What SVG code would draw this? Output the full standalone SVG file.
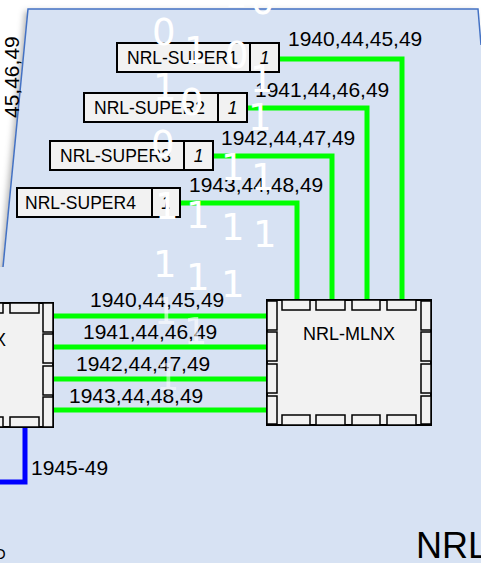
<svg xmlns="http://www.w3.org/2000/svg" width="481" height="563" viewBox="0 0 481 563">
<defs>
<style>
.box{fill:#F2F2F2;stroke:#000;stroke-width:2}
.port{fill:#F2F2F2;stroke:#000;stroke-width:1.5}
.lbl{font-family:"Liberation Sans",Arial,sans-serif;fill:#000}
.nt{font-family:"Liberation Sans",Arial,sans-serif;font-size:17.5px;fill:#000}
.num{font-family:"Liberation Sans",Arial,sans-serif;font-size:17.5px;font-style:italic;fill:#000;text-anchor:middle}
.cl{font-family:"Liberation Sans",Arial,sans-serif;font-size:21px;fill:#000}
.g{fill:none;stroke:#00FF00;stroke-width:5}
.b{fill:none;stroke:#0000FF;stroke-width:5}
.d{font-family:"DejaVu Sans",sans-serif;font-size:37px;fill:#fff}
</style>
<filter id="sh" x="-10%" y="-10%" width="120%" height="120%">
<feDropShadow dx="-3" dy="2" stdDeviation="3" flood-color="#000" flood-opacity="0.3"/>
</filter>
</defs>
<rect width="481" height="563" fill="#fff"/>
<polygon points="28,9 478,9 481,45 481,563 0,563 0,267 3,267" fill="#D7E2F3" filter="url(#sh)"/>
<rect x="0" y="267" width="481" height="296" fill="#D7E2F3"/>
<path d="M3,267 L28,9 L478,9 L481,45" fill="none" stroke="#4472C4" stroke-width="1.5"/>
<text class="cl" transform="translate(19,118) rotate(-90)">45,46,49</text>

<g id="connectors">
<polyline class="g" points="279,59 402,59 402,300"/>
<polyline class="g" points="247,108 367,108 367,300"/>
<polyline class="g" points="213,156 332,156 332,300"/>
<polyline class="g" points="180,203 297,203 297,300"/>
<line class="g" x1="53" y1="316" x2="267" y2="316"/>
<line class="g" x1="53" y1="347" x2="267" y2="347"/>
<line class="g" x1="53" y1="379" x2="267" y2="379"/>
<line class="g" x1="53" y1="410" x2="267" y2="410"/>
<polyline class="b" points="25,427 25,482 -5,482"/>
<text class="cl" x="288" y="46">1940,44,45,49</text>
<text class="cl" x="255" y="97">1941,44,46,49</text>
<text class="cl" x="221" y="145">1942,44,47,49</text>
<text class="cl" x="189" y="192">1943,44,48,49</text>
<text class="cl" x="90" y="307">1940,44,45,49</text>
<text class="cl" x="83" y="339">1941,44,46,49</text>
<text class="cl" x="76" y="371">1942,44,47,49</text>
<text class="cl" x="69" y="403">1943,44,48,49</text>
<text class="cl" x="31" y="475">1945-49</text>
</g>

<g id="super1">
<rect class="box" x="117" y="43" width="133" height="29"/>
<rect class="box" x="250" y="43" width="29" height="29"/>
<text class="nt" x="127" y="64">NRL-SUPER1</text>
<text class="num" x="264.5" y="64">1</text>
</g>
<g id="super2">
<rect class="box" x="84" y="93" width="134" height="29"/>
<rect class="box" x="218" y="93" width="29" height="29"/>
<text class="nt" x="94" y="114">NRL-SUPER2</text>
<text class="num" x="232.5" y="114">1</text>
</g>
<g id="super3">
<rect class="box" x="50" y="141" width="134" height="29"/>
<rect class="box" x="184" y="141" width="29" height="29"/>
<text class="nt" x="60" y="162">NRL-SUPER3</text>
<text class="num" x="198.5" y="162">1</text>
</g>
<g id="super4">
<rect class="box" x="17" y="188" width="135" height="29"/>
<rect class="box" x="152" y="188" width="28" height="29"/>
<text class="nt" x="25" y="209">NRL-SUPER4</text>
<text class="num" x="166" y="209">1</text>
</g>

<g id="mlnx">
<rect class="box" x="267" y="300" width="164" height="125"/>
<rect class="port" x="282" y="300" width="28" height="10"/>
<rect class="port" x="316" y="300" width="29" height="10"/>
<rect class="port" x="352" y="300" width="28" height="10"/>
<rect class="port" x="387" y="300" width="29" height="10"/>
<rect class="port" x="282" y="415" width="28" height="10"/>
<rect class="port" x="316" y="415" width="29" height="10"/>
<rect class="port" x="352" y="415" width="28" height="10"/>
<rect class="port" x="387" y="415" width="29" height="10"/>
<rect class="port" x="267" y="301" width="10" height="29"/>
<rect class="port" x="267" y="332" width="10" height="29"/>
<rect class="port" x="267" y="364" width="10" height="29"/>
<rect class="port" x="267" y="396" width="10" height="28"/>
<rect class="port" x="421" y="301" width="10" height="29"/>
<rect class="port" x="421" y="332" width="10" height="29"/>
<rect class="port" x="421" y="364" width="10" height="29"/>
<rect class="port" x="421" y="396" width="10" height="28"/>
<text class="lbl" x="349" y="340" font-size="18" text-anchor="middle">NRL-MLNX</text>
</g>

<g id="leftbox">
<rect class="box" x="-60" y="303" width="113" height="124"/>
<rect class="port" x="-26" y="303" width="29" height="10"/>
<rect class="port" x="10" y="303" width="29" height="10"/>
<rect class="port" x="-26" y="417" width="29" height="10"/>
<rect class="port" x="10" y="417" width="29" height="10"/>
<rect class="port" x="43" y="303" width="10" height="29"/>
<rect class="port" x="43" y="334" width="10" height="29"/>
<rect class="port" x="43" y="366" width="10" height="29"/>
<rect class="port" x="43" y="397" width="10" height="30"/>
<text class="lbl" x="-6" y="346" font-size="18">X</text>
</g>

<g id="digits">
<text class="d" x="224" y="7">1</text>
<text class="d" x="251" y="14">0</text>
<text class="d" x="152" y="45" font-size="42">0</text>
<text class="d" x="184" y="63">1</text>
<text class="d" x="225" y="68">0</text>
<text class="d" x="250" y="92">1</text>
<text class="d" x="153" y="100">1</text>
<text class="d" x="180" y="115">0</text>
<text class="d" x="248" y="130">1</text>
<text class="d" x="151" y="157">0</text>
<text class="d" x="221" y="180">1</text>
<text class="d" x="251" y="190">1</text>
<text class="d" x="155" y="219">1</text>
<text class="d" x="186" y="228">1</text>
<text class="d" x="221" y="240">1</text>
<text class="d" x="253" y="247">1</text>
<text class="d" x="153" y="277">1</text>
<text class="d" x="186" y="290">1</text>
<text class="d" x="221" y="297">1</text>
<text class="d" x="154" y="324" opacity="0.6">1</text>
<text class="d" x="184" y="344" opacity="0.6">1</text>
<text class="d" x="156" y="390" opacity="0.5">1</text>
</g>

<text class="lbl" x="416" y="558" font-size="36">NRL</text>
<text class="lbl" x="-6" y="559" font-size="15">O</text>
</svg>
